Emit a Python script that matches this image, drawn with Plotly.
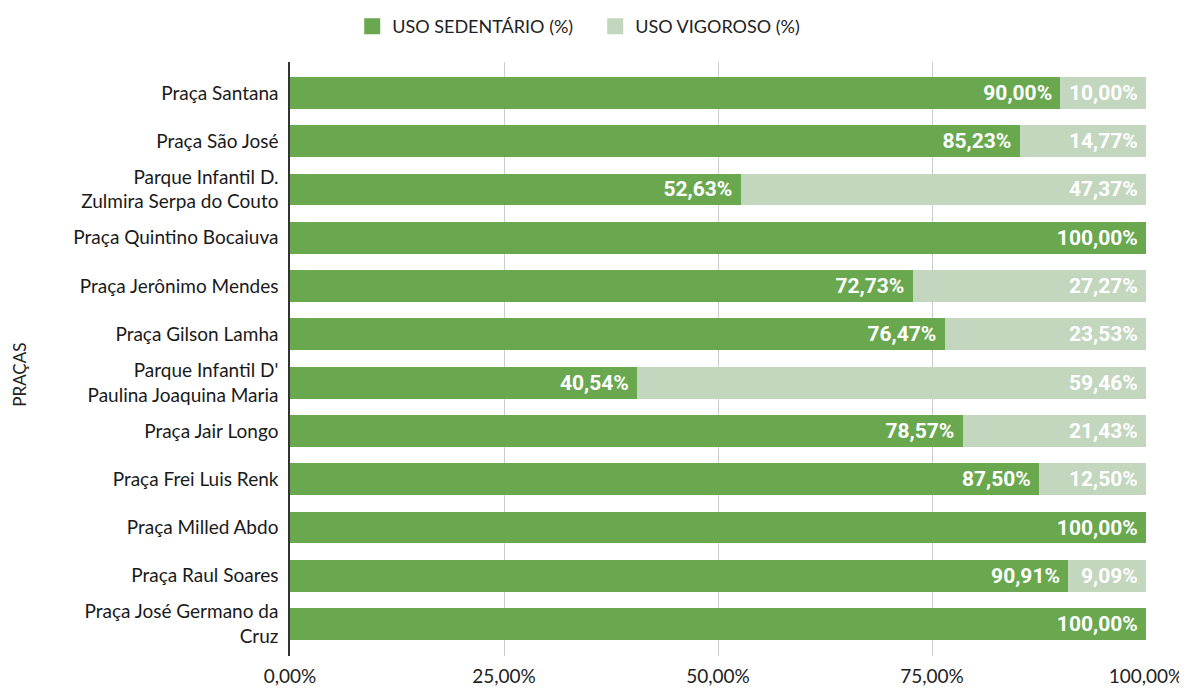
import plotly.graph_objects as go

pracas = [
    "Praça Santana",
    "Praça São José",
    "Parque Infantil D.<br>Zulmira Serpa do Couto",
    "Praça Quintino Bocaiuva",
    "Praça Jerônimo Mendes",
    "Praça Gilson Lamha",
    "Parque Infantil D'<br>Paulina Joaquina Maria",
    "Praça Jair Longo",
    "Praça Frei Luis Renk",
    "Praça Milled Abdo",
    "Praça Raul Soares",
    "Praça José Germano da<br>Cruz",
]
sedentario = [90.00, 85.23, 52.63, 100.00, 72.73, 76.47, 40.54, 78.57, 87.50, 100.00, 90.91, 100.00]
vigoroso = [10.00, 14.77, 47.37, 0.00, 27.27, 23.53, 59.46, 21.43, 12.50, 0.00, 9.09, 0.00]
tick_vals = [0, 25, 50, 75, 100]
tick_text = ["0,00%", "25,00%", "50,00%", "75,00%", "100,00%"]

COL_SED = "#6aa84f"
COL_VIG = "#c3d6be"
FONT = "Lato"


def fmt(v):
    return "" if v == 0 else f"{v:.2f}%".replace(".", ",") + "\u00a0"


fig = go.Figure()
fig.add_trace(go.Bar(
    y=pracas, x=sedentario, orientation="h", name="USO SEDENTÁRIO (%)",
    marker=dict(color=COL_SED, line=dict(width=0)),
    text=[fmt(v) for v in sedentario], textposition="inside", insidetextanchor="end",
    textfont=dict(family="Roboto", size=21, color="white", weight="bold"),
    showlegend=False, hoverinfo="x+y",
))
fig.add_trace(go.Bar(
    y=pracas, x=vigoroso, orientation="h", name="USO VIGOROSO (%)",
    marker=dict(color=COL_VIG, line=dict(width=0)),
    text=[fmt(v) for v in vigoroso], textposition="inside", insidetextanchor="end",
    textfont=dict(family="Roboto", size=21, color="white", weight="bold"),
    showlegend=False, hoverinfo="x+y",
))
# legend entries with larger square swatches
for name, col in [("USO SEDENTÁRIO (%)", COL_SED), ("USO VIGOROSO (%)", COL_VIG)]:
    fig.add_trace(go.Scatter(
        x=[None], y=[None], mode="markers", name=name,
        marker=dict(symbol="square", size=20, color=col),
        showlegend=True,
    ))

fig.update_layout(
    width=1187, height=691,
    barmode="stack", bargap=0.34,
    plot_bgcolor="white", paper_bgcolor="white",
    margin=dict(l=282, r=48, t=54, b=39),
    font=dict(family=FONT, size=18, color="#222222"),
    uniformtext=dict(mode="show", minsize=10),
    legend=dict(orientation="h", x=0.29, xanchor="left", xref="container",
                y=1.0, yanchor="top", yref="container",
                font=dict(family=FONT, size=18, color="#222222"),
                traceorder="normal", itemwidth=30, entrywidth=198),
    xaxis=dict(range=[0, 100], tickvals=tick_vals, ticktext=tick_text,
               showgrid=True, gridcolor="#cccccc", gridwidth=1,
               zeroline=False, showline=False, ticks="",
               ticklabelstandoff=7,
               tickfont=dict(family=FONT, size=19, color="#222222"), fixedrange=True),
    yaxis=dict(range=[11.66, -0.64], showline=True, linecolor="#333333", linewidth=1.5,
               ticks="", ticklabelstandoff=6, showgrid=False,
               tickfont=dict(family=FONT, size=19, color="#1a1a1a")),
)
fig.add_annotation(text="PRAÇAS", xref="paper", yref="paper", x=-0.317, y=0.473,
                   xanchor="center", yanchor="middle", textangle=-90, showarrow=False,
                   font=dict(family=FONT, size=17, color="#222222"))

fig.write_html("out.html")
